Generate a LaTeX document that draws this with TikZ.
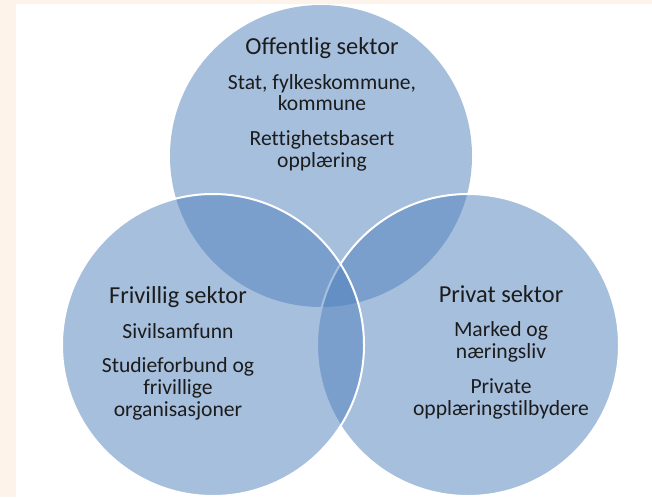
\documentclass[tikz,border=0pt]{standalone}
\usepackage{fontspec}
\setmainfont{Carlito}[Ligatures=NoCommon]
\usetikzlibrary{positioning}
\definecolor{venn}{HTML}{4F81BD}
\definecolor{cream}{HTML}{FDF3EA}
\definecolor{ink}{HTML}{1C1C1C}
\newcommand{\sectorhead}[1]{{\fontsize{18.3}{16.4}\selectfont #1}}

\begin{document}
\begin{tikzpicture}[x=0.75pt, y=0.75pt,
  sector/.style={circle, inner sep=0pt, minimum size=226.5pt, fill=venn, fill opacity=0.5},
  rim/.style={draw=white, line width=1.5pt},
  sectortext/.style={align=center, anchor=base, text=ink, inner sep=0pt,
    font=\fontsize{16.2}{16.4}\selectfont}]
\useasboundingbox (0,0) rectangle (652,497);
\fill[cream] (0,0) rectangle (652,497);
\fill[white] (16,0) rectangle (652,493);

% the three sectors
\node (pub) [sector] at (321,341) {};
\node (priv) [sector, rim] at (468,152) {};
\node (vol) [sector, rim] at (213,152) {};

% text, placed at the baseline of the last line
\node (pubtxt) [sectortext] at (322,329.7)
{\sectorhead{Offentlig sektor}\\[9.5pt]
Stat, fylkeskommune,\\kommune\\[9.5pt]
Rettighetsbasert\\opplæring};
\node (voltxt) [sectortext] at (178,80.3)
{\sectorhead{Frivillig sektor}\\[9.5pt]
Sivilsamfunn\\[9.5pt]
Studieforbund og\\frivillige\\organisasjoner};
\node (privtxt) [sectortext] at (501,82)
{\sectorhead{Privat sektor}\\[9.5pt]
Marked og\\næringsliv\\[9.5pt]
Private\\opplæringstilbydere};
\end{tikzpicture}
\end{document}
